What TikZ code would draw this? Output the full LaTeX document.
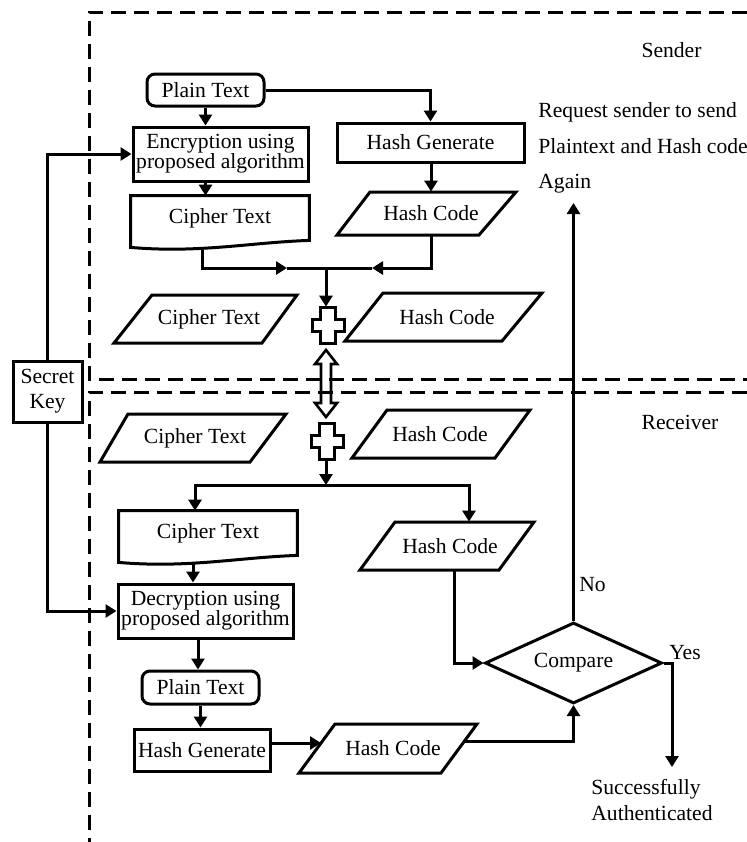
\documentclass[tikz,border=0pt]{standalone}
\usepackage{fontspec}
\setmainfont{Liberation Serif}
\usetikzlibrary{arrows.meta,shapes.geometric,calc}
\begin{document}
\begin{tikzpicture}[x=0.5pt,y=-0.5pt,
  txt/.style={font=\fontsize{10.8}{10}\selectfont},
  box/.style={txt, draw, line width=1.5pt, inner sep=0pt, align=center},
  lbl/.style={txt, inner sep=0pt, align=center},
  ln/.style={line width=1.5pt, line join=miter},
  arr/.style={line width=1.5pt, -{Triangle[length=5.5pt,width=6.5pt]}},
  sep/.style={line width=1.5pt, dash pattern=on 7.5pt off 4pt}]
\useasboundingbox (0,0) rectangle (747,842);
% regions
\draw[sep] (747,12) -- (89,12) -- (89,379) -- (747,379);
\draw[sep] (747,392) -- (89,392) -- (89,842);

% ---------- Sender ----------
\node[box, rounded corners=4pt, minimum width=58.5pt, minimum height=16pt] (pt1) at (205.5,90) {Plain Text};
\node[box, minimum width=87.5pt, minimum height=27pt] (enc) at (220.5,154) {Encryption using\\proposed algorithm};
\node[lbl, minimum width=89pt, minimum height=22pt] (ct1) at (220,218) {Cipher Text};
\draw[ln] (ct1.north west) -- (ct1.north east) -- (ct1.south east)
  .. controls ($(ct1.south east)+(-59,2)$) and ($(ct1.south west)+(69,13)$) .. ($(ct1.south west)+(0,7)$) -- cycle;
\node[box, minimum width=93.5pt, minimum height=19.5pt] (hg1) at (430.5,142.5) {Hash Generate};
\node[lbl, minimum height=21.5pt] (hc1) at (431,213.5) {Hash Code};
\draw[ln] (370,192) -- (516,192) -- (479,235) -- (337,235) -- cycle;

\node[lbl, minimum height=24pt] (ct2) at (209,319) {Cipher Text};
\draw[ln] (152,295) -- (297,295) -- (262,343) -- (114,343) -- cycle;
\node[lbl, minimum height=24pt] (hc2) at (447,317) {Hash Code};
\draw[ln] (383,293) -- (542,293) -- (502,341) -- (345,341) -- cycle;

\node[lbl, minimum width=16pt, minimum height=18pt] (plus1) at (328,325) {};
\draw[ln, shift={(plus1.center)}] (-7.5,-18) -- (7.5,-18) -- (7.5,-6) -- (16,-6) -- (16,6) -- (7.5,6) -- (7.5,18) -- (-7.5,18) -- (-7.5,6) -- (-16,6) -- (-16,-6) -- (-7.5,-6) -- cycle;

\coordinate (j1) at (326,268);
\coordinate (a1) at (287,268);
\coordinate (a2) at (372,268);
\coordinate (ct1b) at (202,248);
\draw[arr] (pt1.south) -- (pt1.south |- enc.north);
\draw[arr] (enc.south -| pt1.south) -- (pt1.south |- ct1.north);
\draw[arr] (pt1.east) -| (hg1.north);
\draw[arr] (hg1.south -| hc1.north) -- (hc1.north);
\draw[arr] (ct1b) |- (a1);
\draw[ln] (a1) -- (j1);
\draw[arr] (hc1.south) |- (a2);
\draw[ln] (a2) -- (j1);
\draw[arr] (j1) -- (j1 |- plus1.north);

\node[lbl] (sender) at (671.5,50) {Sender};
\node[lbl, align=left, anchor=west, font=\fontsize{10.8}{17.7}\selectfont] (req) at (538,148) {Request sender to send\\Plaintext and Hash code\\Again};

% transfer
\coordinate (dc) at (326,383.5);
\draw[line width=1.3pt, shift={(dc)}] (0,-33.5) -- (11,-19.5) -- (5,-19.5) -- (5,19.5) -- (11,19.5) -- (0,33.5) -- (-11,19.5) -- (-5,19.5) -- (-5,-19.5) -- (-11,-19.5) -- cycle;

% ---------- Secret key ----------
\node[box, minimum width=34.5pt, minimum height=30.5pt, font=\fontsize{10.8}{12.5}\selectfont] (sk) at (47.5,391.5) {Secret\\Key};

% ---------- Receiver ----------
\node[lbl] (receiver) at (680,422) {Receiver};
\node[lbl, minimum height=24pt] (ct3) at (195,438) {Cipher Text};
\draw[ln] (128,414) -- (286,414) -- (250,462) -- (100,462) -- cycle;
\node[lbl, minimum height=24pt] (hc3) at (440,434) {Hash Code};
\draw[ln] (387,410) -- (530,410) -- (495,458) -- (352,458) -- cycle;
\node[lbl, minimum width=16pt, minimum height=18pt] (plus2) at (327,441) {};
\draw[ln, shift={(plus2.center)}] (-7.5,-18) -- (7.5,-18) -- (7.5,-6) -- (16,-6) -- (16,6) -- (7.5,6) -- (7.5,18) -- (-7.5,18) -- (-7.5,6) -- (-16,6) -- (-16,-6) -- (-7.5,-6) -- cycle;

\node[lbl, minimum width=89pt, minimum height=22pt] (ct4) at (208,533) {Cipher Text};
\draw[ln] (ct4.north west) -- (ct4.north east) -- (ct4.south east)
  .. controls ($(ct4.south east)+(-59,2)$) and ($(ct4.south west)+(69,13)$) .. ($(ct4.south west)+(0,7)$) -- cycle;
\node[lbl, minimum height=24pt] (hc4) at (450,546) {Hash Code};
\draw[ln] (395,522) -- (534,522) -- (499,570) -- (360,570) -- cycle;

\node[box, minimum width=87.5pt, minimum height=27pt] (dec) at (205.5,611) {Decryption using\\proposed algorithm};
\node[box, rounded corners=4pt, minimum width=58.5pt, minimum height=16.5pt] (pt2) at (200.5,687.5) {Plain Text};
\node[box, minimum width=68pt, minimum height=21pt] (hg2) at (202,750) {Hash Generate};
\node[lbl, minimum height=24.5pt] (hc5) at (393,748.5) {Hash Code};
\draw[ln] (335,724) -- (477,724) -- (441,773) -- (299,773) -- cycle;

\node[txt, draw, diamond, line width=1.5pt, inner sep=0pt, aspect=2.2, minimum width=88.5pt, minimum height=40.5pt] (cmp) at (573.5,663) {Compare};

\node[lbl] (no) at (592.5,585) {No};
\node[lbl] (yes) at (685,653) {Yes};
\node[lbl, align=left, anchor=west, font=\fontsize{10.8}{13}\selectfont] (succ) at (591,800) {Successfully\\Authenticated};

\coordinate (j2) at (326,485);
\coordinate (ct4b) at (193,562);
\coordinate (noend) at (573.5,203);
\coordinate (yend) at (672,767);
\coordinate (hc5l) at (321,743);
\coordinate (hc5r) at (465,741);

\draw[arr] (plus2.south -| j2) -- (j2);
\draw[arr] (j2) -| (195,0 |- ct4.north);
\draw[arr] (j2) -| (469,0 |- hc4.north);
\draw[arr] (454,0 |- hc4.south) |- (cmp.west);
\draw[arr] (ct4b) -- (ct4b |- dec.north);
\draw[arr] (198,0 |- dec.south) -- (198,0 |- pt2.north);
\draw[arr] (pt2.south) -- (pt2.south |- hg2.north);
\draw[arr] (hg2.east |- hc5l) -- (hc5l);
\draw[arr] (hc5r) -| (cmp.south);
\draw[arr] (cmp.north) -- (noend);
\draw[arr] (cmp.east) -| (yend);

\draw[arr] (sk.north) |- (enc.west);
\draw[arr] (sk.south) |- (dec.west);
\end{tikzpicture}
\end{document}
